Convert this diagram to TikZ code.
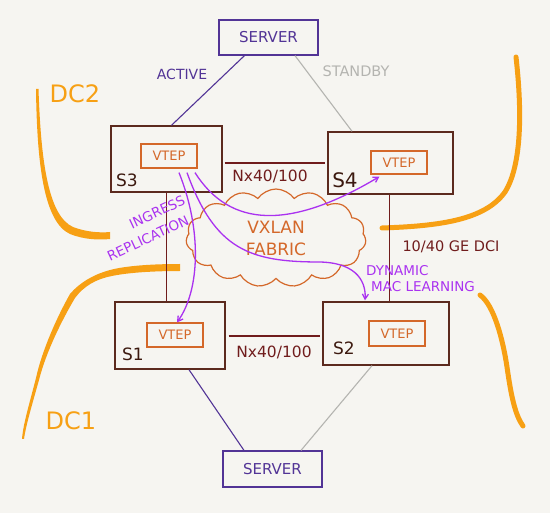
\documentclass[tikz,border=0pt]{standalone}
\usepackage{fontspec}
\setmainfont{DejaVu Sans}
\usetikzlibrary{shapes.symbols,arrows.meta,calc}
\definecolor{bg}{RGB}{246,245,241}
\definecolor{srv}{RGB}{82,52,150}
\definecolor{sw}{RGB}{92,42,30}
\definecolor{lnk}{RGB}{112,28,28}
\definecolor{vtep}{RGB}{212,104,42}
\definecolor{dc}{RGB}{247,160,20}
\definecolor{pur}{RGB}{170,50,240}
\definecolor{gry}{RGB}{180,180,176}
\definecolor{slbl}{RGB}{60,25,15}
\newcommand{\fs}[1]{\fontsize{#1}{#1}\selectfont}
\begin{document}
\begin{tikzpicture}[x=1pt,y=-1pt,
  srvbox/.style={draw=srv,line width=1.2pt,minimum width=99pt,minimum height=35pt,inner sep=0pt,text=srv,font=\fs{15}},
  swbox/.style={draw=sw,line width=1.4pt,inner sep=0pt},
  vtepbox/.style={draw=vtep,line width=1.2pt,minimum width=56pt,minimum height=24pt,inner sep=0pt,text=vtep,font=\fs{13}},
  swlbl/.style={text=slbl,font=\fs{17},inner sep=0pt},
  lnkline/.style={draw=lnk,line width=1.2pt},
  lnklbl/.style={text=lnk,font=\fs{15.5},inner sep=0pt},
  actline/.style={draw=srv,line width=1.1pt},
  sbyline/.style={draw=gry,line width=1.1pt},
  purarrow/.style={draw=pur,line width=1.3pt,-{Straight Barb[length=5pt,width=6pt]}},
  purlbl/.style={text=pur,font=\fs{13.5},inner sep=0pt},
  dcline/.style={draw=dc,line width=5pt,line cap=round},
  dclbl/.style={text=dc,font=\fs{24},inner sep=0pt}]
\useasboundingbox (0,0) rectangle (550,513);
\fill[bg] (0,0) rectangle (550,513);

% orange data-centre boundaries
\fill[dc] (36,89) .. controls (37,165) and (44,222) .. (70,234) .. controls (85,240) and (100,240) .. (110,239)
  -- (110,232) .. controls (100,233) and (86,232) .. (73,227) .. controls (49,216) and (41,165) .. (38.5,89) -- cycle;
\fill[dc] (180,264) .. controls (150,264) and (125,266) .. (110,270) .. controls (95,274) and (80,282) .. (70,294)
  .. controls (58,315) and (42,350) .. (36,378) .. controls (29,405) and (23,425) .. (22,439)
  -- (24,439) .. controls (26,425) and (32,405) .. (39,380) .. controls (46,352) and (62,320) .. (75,298)
  .. controls (84,286) and (96,279) .. (112,276) .. controls (126,273) and (150,271) .. (180,271) -- cycle;
\draw[dcline] (516,57) .. controls (522,110) and (522,165) .. (505,192) .. controls (485,220) and (440,226) .. (382,228);
\draw[dcline] (480,295) .. controls (494,305) and (503,340) .. (507,367) .. controls (511,395) and (515,415) .. (523,426);
\node[dclbl] (dc2) at (75,94) {DC2};
\node[dclbl] (dc1) at (71,421) {DC1};

% cloud
\node[cloud,draw=vtep,line width=1.2pt,cloud puffs=15,cloud puff arc=110,aspect=1.8,
  minimum width=180pt,minimum height=98pt,inner sep=0pt,text=vtep,font=\fs{17},align=center]
  (cloud) at (276,238) {VXLAN\\[5pt]FABRIC};

% servers
\node[srvbox] (srvT) at (268.5,37.5) {SERVER};
\node[srvbox,minimum height=36pt] (srvB) at (272.5,469) {SERVER};

% switches
\node[swbox,minimum width=111pt,minimum height=66pt] (s3) at (166.5,159) {};
\node[swbox,minimum width=125pt,minimum height=62pt] (s4) at (390.5,163) {};
\node[swbox,minimum width=110pt,minimum height=67pt] (s1) at (170,335.5) {};
\node[swbox,minimum width=126pt,minimum height=63pt] (s2) at (386,333.5) {};

\node[vtepbox] (v3) at (169,156) {VTEP};
\node[vtepbox,minimum height=23pt] (v4) at (399,162.5) {VTEP};
\node[vtepbox] (v1) at (175,335) {VTEP};
\node[vtepbox,minimum height=25pt] (v2) at (397,333.5) {VTEP};

\node[swlbl] (l3) at (127,180) {S3};
\node[swlbl,font=\fs{20}] (l4) at (345,180) {S4};
\node[swlbl] (l1) at (133,354) {S1};
\node[swlbl] (l2) at (344,348) {S2};

% server links
\draw[actline] ($(srvT.south)+(-24,0)$) -- ($(s3.north)+(5,0)$);
\draw[sbyline] ($(srvT.south)+(26.5,0)$) -- ($(s4.north)+(-38.5,0)$);
\draw[actline] ($(s1.south)+(19,0)$) -- ($(srvB.north)+(-28.5,0)$);
\draw[sbyline] ($(s2.south)+(-14,0)$) -- ($(srvB.north)+(28.5,0)$);
\node[text=srv,font=\fs{14},inner sep=0pt] (act) at (182,74) {ACTIVE};
\node[text=gry,font=\fs{14.5},inner sep=0pt] (sby) at (356,71) {STANDBY};

% switch links
\draw[lnkline] ($(s3.east)+(2,4)$) -- ($(s4.west)+(-2,0)$);
\draw[lnkline] ($(s1.east)+(3,0.5)$) -- ($(s2.west)+(-2,2.5)$);
\draw[lnkline] (s3.south) -- (s3.south |- s1.north);
\draw[lnkline] ($(s4.south)+(-1,0)$) -- ($(s4.south |- s2.north)+(-1,0)$);
\node[lnklbl] (n34) at (270,176) {Nx40/100};
\node[lnklbl] (n12) at (274,352) {Nx40/100};
\node[lnklbl,font=\fs{14.5}] (dci) at (451,247) {10/40 GE DCI};

% purple flows
\coordinate (p1) at ($(v3.south)+(10,4)$);
\coordinate (p2) at ($(v3.south)+(18,4)$);
\coordinate (p3) at ($(v3.south)+(26,4)$);
\draw[purarrow] (p1) .. controls (202,230) and (200,290) .. ($(v1.north)+(2,0)$);
\draw[purarrow] (p2) .. controls (215,250) and (250,262) .. (320,262) .. controls (360,263) and (366,285) .. ($(s2.north)+(-21,-1)$);
\draw[purarrow] (p3) .. controls (230,228) and (290,230) .. ($(v4.south west)+(9,2)$);
\node[purlbl,rotate=25] (ing) at (157,212) {INGRESS};
\node[purlbl,rotate=25] (rep) at (148,238) {REPLICATION};
\node[purlbl,anchor=west] (dyn) at (366,271) {DYNAMIC};
\node[purlbl,anchor=west] (mac) at (371,287) {MAC LEARNING};
\end{tikzpicture}
\end{document}
